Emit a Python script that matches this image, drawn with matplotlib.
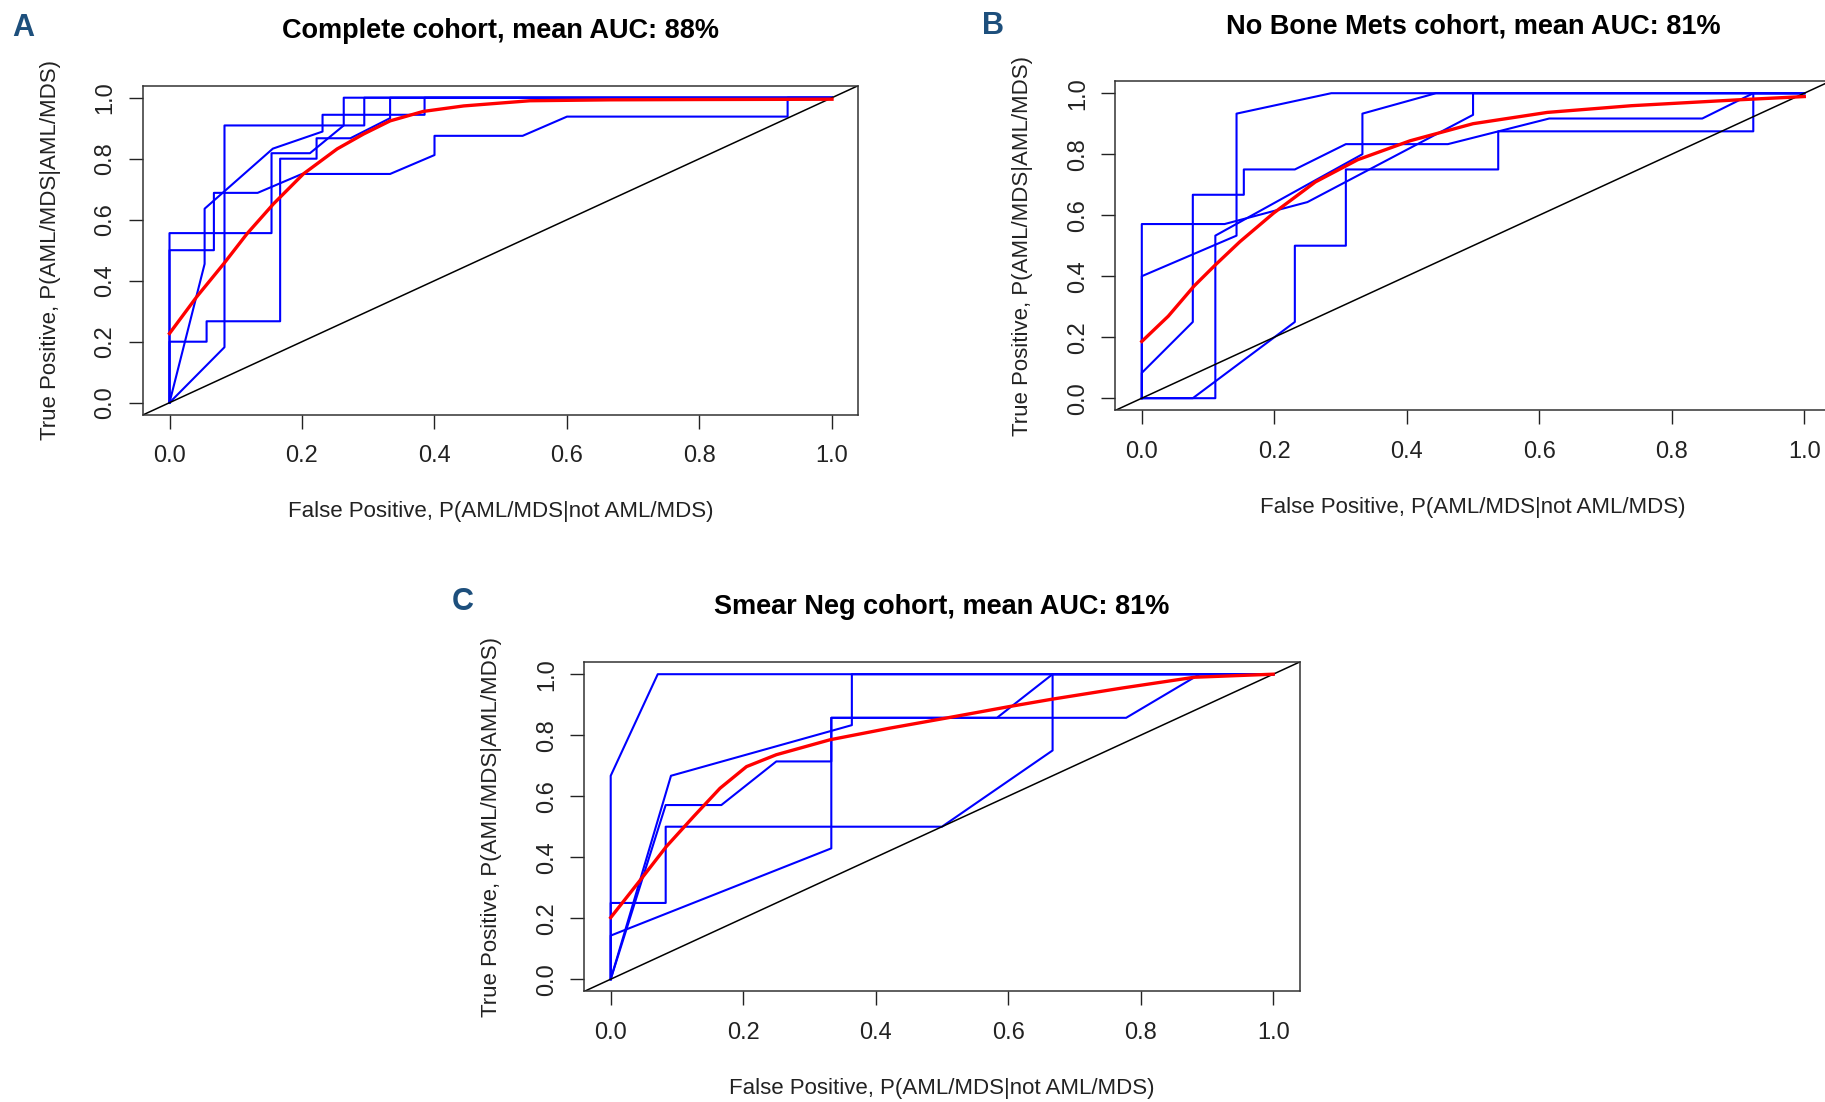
import matplotlib
matplotlib.use("Agg")
import matplotlib.pyplot as plt

plt.rcParams["font.family"] = ["Liberation Sans", "DejaVu Sans"]

# ROC curves per fold (fpr / tpr)
a_fpr = [
    [0, 0, 0.056, 0.056, 0.167, 0.167, 0.222, 0.222, 0.273, 0.333, 0.333, 1.0],
    [0, 0, 0.067, 0.067, 0.133, 0.2, 0.333, 0.4, 0.4, 0.533, 0.6, 0.933, 0.933, 1.0],
    [0, 0.053, 0.053, 0.156, 0.231, 0.231, 0.385, 0.385, 1.0],
    [0, 0.083, 0.083, 0.263, 0.263, 1.0],
    [0, 0, 0.154, 0.154, 0.212, 0.263, 0.294, 0.294, 1.0],
]
a_tpr = [
    [0, 0.2, 0.2, 0.267, 0.267, 0.8, 0.8, 0.867, 0.867, 0.933, 1.0, 1.0],
    [0, 0.5, 0.5, 0.688, 0.688, 0.75, 0.75, 0.812, 0.875, 0.875, 0.938, 0.938, 1.0, 1.0],
    [0, 0.455, 0.636, 0.833, 0.889, 0.944, 0.944, 1.0, 1.0],
    [0, 0.182, 0.909, 0.909, 1.0, 1.0],
    [0, 0.556, 0.556, 0.818, 0.818, 0.909, 0.909, 1.0, 1.0],
]
a_mean_fpr = [0, 0.041, 0.082, 0.117, 0.157, 0.202, 0.253, 0.293, 0.333, 0.383, 0.444, 0.544, 0.665, 0.8, 1.0]
a_mean_tpr = [0.227, 0.347, 0.456, 0.554, 0.652, 0.75, 0.832, 0.881, 0.924, 0.955, 0.973, 0.99, 0.993, 0.994, 0.995]

b_fpr = [
    [0, 0, 0.143, 0.143, 0.286, 1.0],
    [0, 0, 0.077, 0.077, 0.154, 0.154, 0.231, 0.308, 0.462, 0.615, 0.846, 0.923, 1.0],
    [0, 0.077, 0.231, 0.231, 0.308, 0.308, 0.538, 0.538, 0.923, 0.923, 1.0],
    [0, 0.111, 0.111, 0.333, 0.333, 0.444, 1.0],
    [0, 0, 0.125, 0.25, 0.5, 0.5, 1.0],
]
b_tpr = [
    [0, 0.4, 0.533, 0.933, 1.0, 1.0],
    [0, 0.083, 0.25, 0.667, 0.667, 0.75, 0.75, 0.833, 0.833, 0.917, 0.917, 1.0, 1.0],
    [0, 0, 0.25, 0.5, 0.5, 0.75, 0.75, 0.875, 0.875, 1.0, 1.0],
    [0, 0, 0.533, 0.8, 0.933, 1.0, 1.0],
    [0, 0.571, 0.571, 0.643, 0.929, 1.0, 1.0],
]
b_mean_fpr = [0, 0.04, 0.079, 0.111, 0.148, 0.199, 0.262, 0.326, 0.405, 0.5, 0.612, 0.739, 0.898, 1.0]
b_mean_tpr = [0.186, 0.269, 0.368, 0.437, 0.513, 0.607, 0.709, 0.782, 0.844, 0.9, 0.937, 0.959, 0.978, 0.989]

c_fpr = [
    [0, 0, 0.071, 1.0],
    [0, 0.091, 0.364, 0.364, 1.0],
    [0, 0.083, 0.167, 0.25, 0.333, 0.333, 0.583, 0.667, 1.0],
    [0, 0, 0.333, 0.333, 0.778, 0.889, 1.0],
    [0, 0, 0.083, 0.083, 0.5, 0.667, 0.667, 1.0],
]
c_tpr = [
    [0, 0.667, 1.0, 1.0],
    [0, 0.667, 0.833, 1.0, 1.0],
    [0, 0.571, 0.571, 0.714, 0.714, 0.857, 0.857, 1.0, 1.0],
    [0, 0.143, 0.429, 0.857, 0.857, 1.0, 1.0],
    [0, 0.25, 0.25, 0.5, 0.5, 0.75, 1.0, 1.0],
]
c_mean_fpr = [0, 0.049, 0.084, 0.125, 0.165, 0.205, 0.25, 0.331, 0.421, 0.506, 0.602, 0.666, 0.773, 0.881, 1.0]
c_mean_tpr = [0.202, 0.337, 0.435, 0.533, 0.626, 0.697, 0.736, 0.785, 0.823, 0.856, 0.894, 0.918, 0.955, 0.99, 1.0]

titles = ["Complete cohort, mean AUC: 88%",
          "No Bone Mets cohort, mean AUC: 81%",
          "Smear Neg cohort, mean AUC: 81%"]
letters = ["A", "B", "C"]
ticks = [0.0, 0.2, 0.4, 0.6, 0.8, 1.0]
tick_labels = ["0.0", "0.2", "0.4", "0.6", "0.8", "1.0"]

W, H = 1825, 1102
fig = plt.figure(figsize=(W / 100, H / 100), dpi=100)

# axes boxes in pixels: left, top
boxes = [(143, 85.5), (1115.3, 81), (584.2, 662)]
letter_pos = [(23, 28), (993, 26), (463, 602)]
aw, ah = 715.5, 329.4

panels = [(a_fpr, a_tpr, a_mean_fpr, a_mean_tpr),
          (b_fpr, b_tpr, b_mean_fpr, b_mean_tpr),
          (c_fpr, c_tpr, c_mean_fpr, c_mean_tpr)]

for i, (fprs, tprs, mf, mt) in enumerate(panels):
    left, top = boxes[i]
    ax = fig.add_axes([left / W, 1 - (top + ah) / H, aw / W, ah / H])
    ax.set_xlim(-0.04, 1.04)
    ax.set_ylim(-0.04, 1.04)
    for fp, tp in zip(fprs, tprs):
        ax.plot(fp, tp, color="#0000ff", lw=1.5)
    ax.axline((0, 0), slope=1, color="black", lw=1.1)
    ax.plot(mf, mt, color="#ff0000", lw=2.4)

    ax.set_xticks(ticks)
    ax.set_xticklabels(tick_labels)
    ax.set_yticks(ticks)
    ax.set_yticklabels(tick_labels, rotation=90, va="center")
    ax.tick_params(length=10, width=1, labelsize=17, colors="#222222")
    ax.tick_params(axis="x", pad=12)
    ax.tick_params(axis="y", pad=9)
    for s in ax.spines.values():
        s.set_linewidth(1.1)
        s.set_color("#333333")

    ax.text(0.5, 1 + 55 / ah, titles[i], transform=ax.transAxes,
            ha="center", va="center", fontsize=19.5, fontweight="bold")
    ax.text(0.5, -97 / ah, "False Positive, P(AML/MDS|not AML/MDS)",
            transform=ax.transAxes, ha="center", va="center", fontsize=16, color="#222222")
    ax.text(-93 / aw, 0.5, "True Positive, P(AML/MDS|AML/MDS)",
            transform=ax.transAxes, ha="center", va="center", rotation=90,
            fontsize=16, color="#222222")

    lx, ly = letter_pos[i]
    fig.text(lx / W, 1 - ly / H, letters[i], ha="center", va="center",
             fontsize=22, fontweight="bold", color="#1d4f7c")

fig.savefig("out.png", dpi=100)
